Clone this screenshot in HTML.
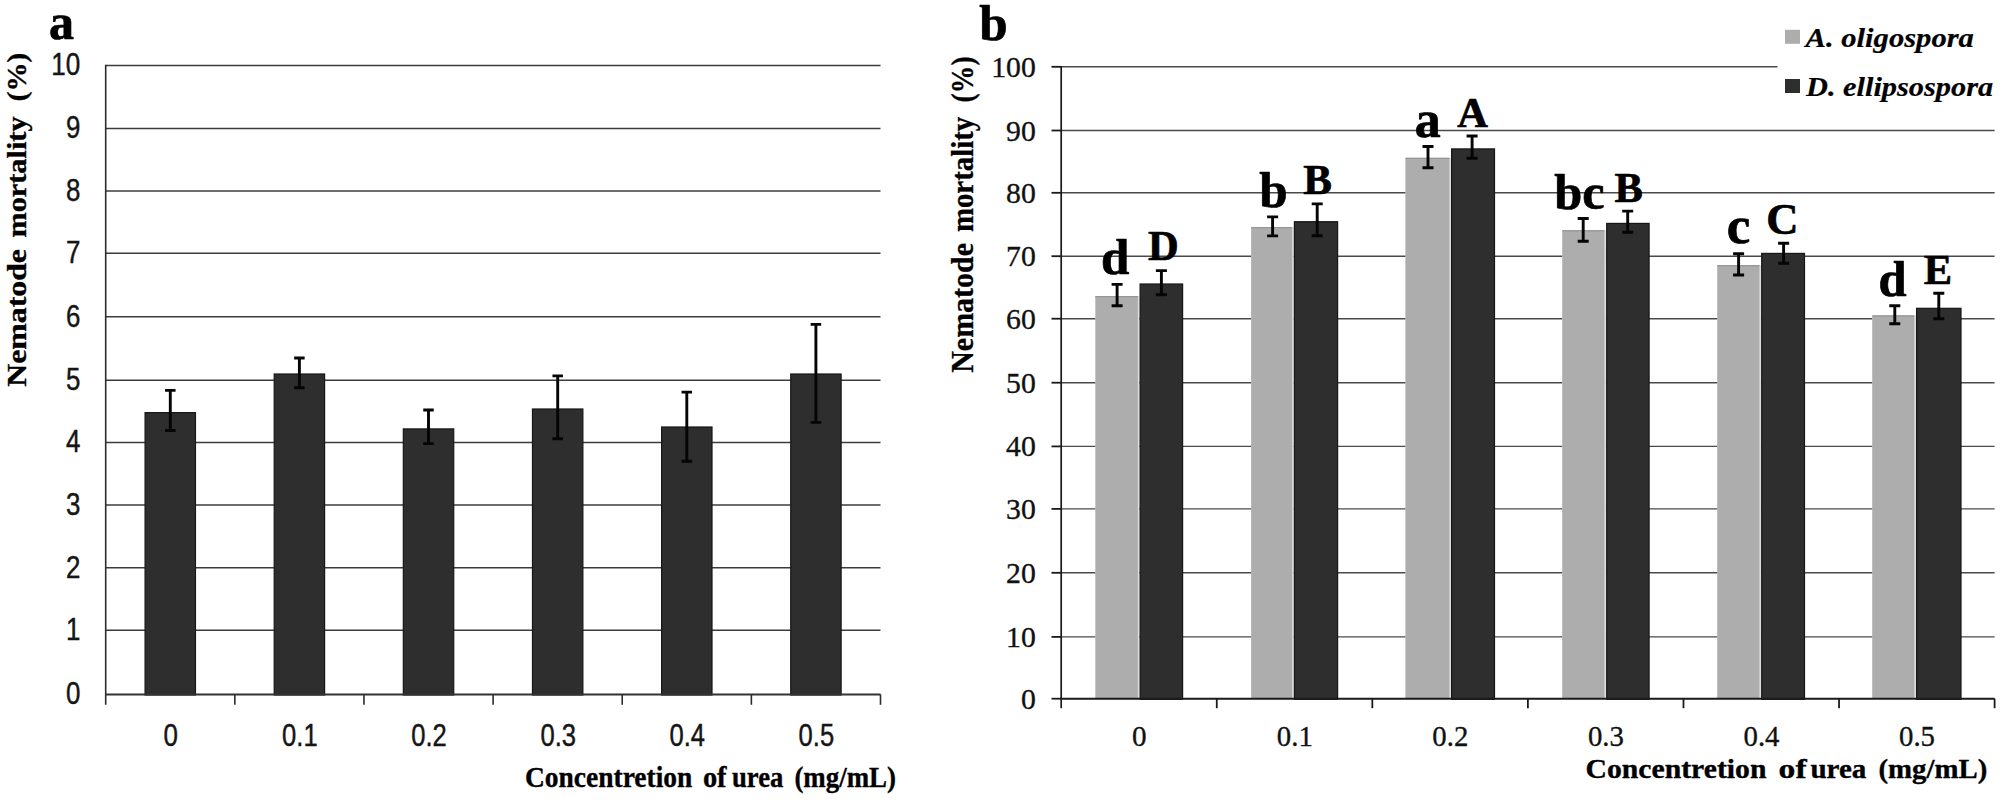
<!DOCTYPE html>
<html lang="en"><head><meta charset="utf-8"><title>Nematode mortality vs. concentration of urea</title>
<style>
html,body{margin:0;padding:0;background:#fff;}
body{width:2007px;height:812px;overflow:hidden;}
svg{display:block;}
text{white-space:pre;}
</style></head><body>
<svg width="2007" height="812" viewBox="0 0 2007 812">
<line x1="105.7" y1="630.30" x2="880.5" y2="630.30" stroke="#3c3c3c" stroke-width="1.5"/>
<line x1="105.7" y1="567.80" x2="880.5" y2="567.80" stroke="#3c3c3c" stroke-width="1.5"/>
<line x1="105.7" y1="505.10" x2="880.5" y2="505.10" stroke="#3c3c3c" stroke-width="1.5"/>
<line x1="105.7" y1="442.40" x2="880.5" y2="442.40" stroke="#3c3c3c" stroke-width="1.5"/>
<line x1="105.7" y1="380.30" x2="880.5" y2="380.30" stroke="#3c3c3c" stroke-width="1.5"/>
<line x1="105.7" y1="316.80" x2="880.5" y2="316.80" stroke="#3c3c3c" stroke-width="1.5"/>
<line x1="105.7" y1="253.30" x2="880.5" y2="253.30" stroke="#3c3c3c" stroke-width="1.5"/>
<line x1="105.7" y1="191.00" x2="880.5" y2="191.00" stroke="#3c3c3c" stroke-width="1.5"/>
<line x1="105.7" y1="128.50" x2="880.5" y2="128.50" stroke="#3c3c3c" stroke-width="1.5"/>
<line x1="105.7" y1="65.40" x2="880.5" y2="65.40" stroke="#3c3c3c" stroke-width="1.5"/>
<rect x="145.07" y="412.60" width="50.40" height="282.40" fill="#2e2e2e" stroke="#171717" stroke-width="1.2"/>
<rect x="274.20" y="374.00" width="50.40" height="321.00" fill="#2e2e2e" stroke="#171717" stroke-width="1.2"/>
<rect x="403.33" y="428.90" width="50.40" height="266.10" fill="#2e2e2e" stroke="#171717" stroke-width="1.2"/>
<rect x="532.47" y="409.00" width="50.40" height="286.00" fill="#2e2e2e" stroke="#171717" stroke-width="1.2"/>
<rect x="661.60" y="427.00" width="50.40" height="268.00" fill="#2e2e2e" stroke="#171717" stroke-width="1.2"/>
<rect x="790.73" y="374.00" width="50.40" height="321.00" fill="#2e2e2e" stroke="#171717" stroke-width="1.2"/>
<path d="M170.3 390.4V430.5M165.05 390.4H175.55M165.05 430.5H175.55" stroke="#050505" stroke-width="2.9" fill="none"/>
<path d="M299.4 358.0V387.7M294.15 358.0H304.65M294.15 387.7H304.65" stroke="#050505" stroke-width="2.9" fill="none"/>
<path d="M428.5 410.0V443.6M423.25 410.0H433.75M423.25 443.6H433.75" stroke="#050505" stroke-width="2.9" fill="none"/>
<path d="M557.7 375.9V438.7M552.45 375.9H562.95M552.45 438.7H562.95" stroke="#050505" stroke-width="2.9" fill="none"/>
<path d="M686.8 392.1V461.3M681.55 392.1H692.05M681.55 461.3H692.05" stroke="#050505" stroke-width="2.9" fill="none"/>
<path d="M815.9 324.4V422.4M810.65 324.4H821.15M810.65 422.4H821.15" stroke="#050505" stroke-width="2.9" fill="none"/>
<line x1="105.7" y1="64.7" x2="105.7" y2="704.8" stroke="#2c2c2c" stroke-width="1.6"/>
<line x1="105.7" y1="694.4" x2="880.5" y2="694.4" stroke="#333" stroke-width="2"/>
<line x1="234.83" y1="694.4" x2="234.83" y2="704.8" stroke="#2c2c2c" stroke-width="1.6"/>
<line x1="363.97" y1="694.4" x2="363.97" y2="704.8" stroke="#2c2c2c" stroke-width="1.6"/>
<line x1="493.10" y1="694.4" x2="493.10" y2="704.8" stroke="#2c2c2c" stroke-width="1.6"/>
<line x1="622.23" y1="694.4" x2="622.23" y2="704.8" stroke="#2c2c2c" stroke-width="1.6"/>
<line x1="751.37" y1="694.4" x2="751.37" y2="704.8" stroke="#2c2c2c" stroke-width="1.6"/>
<line x1="880.50" y1="694.4" x2="880.50" y2="704.8" stroke="#2c2c2c" stroke-width="1.6"/>
<text x="80.3" y="704.3" font-family='"Liberation Sans", sans-serif' font-size="31.6" font-weight="normal" font-style="normal" text-anchor="end" fill="#151515" textLength="14.4" lengthAdjust="spacingAndGlyphs" stroke="#151515" stroke-width="0.45" stroke-linejoin="round">0</text>
<text x="80.3" y="640.2" font-family='"Liberation Sans", sans-serif' font-size="31.6" font-weight="normal" font-style="normal" text-anchor="end" fill="#151515" textLength="14.4" lengthAdjust="spacingAndGlyphs" stroke="#151515" stroke-width="0.45" stroke-linejoin="round">1</text>
<text x="80.3" y="577.7" font-family='"Liberation Sans", sans-serif' font-size="31.6" font-weight="normal" font-style="normal" text-anchor="end" fill="#151515" textLength="14.4" lengthAdjust="spacingAndGlyphs" stroke="#151515" stroke-width="0.45" stroke-linejoin="round">2</text>
<text x="80.3" y="515.0" font-family='"Liberation Sans", sans-serif' font-size="31.6" font-weight="normal" font-style="normal" text-anchor="end" fill="#151515" textLength="14.4" lengthAdjust="spacingAndGlyphs" stroke="#151515" stroke-width="0.45" stroke-linejoin="round">3</text>
<text x="80.3" y="452.3" font-family='"Liberation Sans", sans-serif' font-size="31.6" font-weight="normal" font-style="normal" text-anchor="end" fill="#151515" textLength="14.4" lengthAdjust="spacingAndGlyphs" stroke="#151515" stroke-width="0.45" stroke-linejoin="round">4</text>
<text x="80.3" y="390.2" font-family='"Liberation Sans", sans-serif' font-size="31.6" font-weight="normal" font-style="normal" text-anchor="end" fill="#151515" textLength="14.4" lengthAdjust="spacingAndGlyphs" stroke="#151515" stroke-width="0.45" stroke-linejoin="round">5</text>
<text x="80.3" y="326.7" font-family='"Liberation Sans", sans-serif' font-size="31.6" font-weight="normal" font-style="normal" text-anchor="end" fill="#151515" textLength="14.4" lengthAdjust="spacingAndGlyphs" stroke="#151515" stroke-width="0.45" stroke-linejoin="round">6</text>
<text x="80.3" y="263.2" font-family='"Liberation Sans", sans-serif' font-size="31.6" font-weight="normal" font-style="normal" text-anchor="end" fill="#151515" textLength="14.4" lengthAdjust="spacingAndGlyphs" stroke="#151515" stroke-width="0.45" stroke-linejoin="round">7</text>
<text x="80.3" y="200.9" font-family='"Liberation Sans", sans-serif' font-size="31.6" font-weight="normal" font-style="normal" text-anchor="end" fill="#151515" textLength="14.4" lengthAdjust="spacingAndGlyphs" stroke="#151515" stroke-width="0.45" stroke-linejoin="round">8</text>
<text x="80.3" y="138.4" font-family='"Liberation Sans", sans-serif' font-size="31.6" font-weight="normal" font-style="normal" text-anchor="end" fill="#151515" textLength="14.4" lengthAdjust="spacingAndGlyphs" stroke="#151515" stroke-width="0.45" stroke-linejoin="round">9</text>
<text x="80.3" y="75.3" font-family='"Liberation Sans", sans-serif' font-size="31.6" font-weight="normal" font-style="normal" text-anchor="end" fill="#151515" textLength="29.0" lengthAdjust="spacingAndGlyphs" stroke="#151515" stroke-width="0.45" stroke-linejoin="round">10</text>
<text x="170.8" y="745.7" font-family='"Liberation Sans", sans-serif' font-size="32" font-weight="normal" font-style="normal" text-anchor="middle" fill="#151515" textLength="14.4" lengthAdjust="spacingAndGlyphs" stroke="#151515" stroke-width="0.45" stroke-linejoin="round">0</text>
<text x="299.9" y="745.7" font-family='"Liberation Sans", sans-serif' font-size="32" font-weight="normal" font-style="normal" text-anchor="middle" fill="#151515" textLength="35.6" lengthAdjust="spacingAndGlyphs" stroke="#151515" stroke-width="0.45" stroke-linejoin="round">0.1</text>
<text x="429.0" y="745.7" font-family='"Liberation Sans", sans-serif' font-size="32" font-weight="normal" font-style="normal" text-anchor="middle" fill="#151515" textLength="35.6" lengthAdjust="spacingAndGlyphs" stroke="#151515" stroke-width="0.45" stroke-linejoin="round">0.2</text>
<text x="558.2" y="745.7" font-family='"Liberation Sans", sans-serif' font-size="32" font-weight="normal" font-style="normal" text-anchor="middle" fill="#151515" textLength="35.6" lengthAdjust="spacingAndGlyphs" stroke="#151515" stroke-width="0.45" stroke-linejoin="round">0.3</text>
<text x="687.3" y="745.7" font-family='"Liberation Sans", sans-serif' font-size="32" font-weight="normal" font-style="normal" text-anchor="middle" fill="#151515" textLength="35.6" lengthAdjust="spacingAndGlyphs" stroke="#151515" stroke-width="0.45" stroke-linejoin="round">0.4</text>
<text x="816.4" y="745.7" font-family='"Liberation Sans", sans-serif' font-size="32" font-weight="normal" font-style="normal" text-anchor="middle" fill="#151515" textLength="35.6" lengthAdjust="spacingAndGlyphs" stroke="#151515" stroke-width="0.45" stroke-linejoin="round">0.5</text>
<text x="49" y="39" font-family='"Liberation Serif", serif' font-size="50" font-weight="bold" font-style="normal" text-anchor="start" fill="#000" stroke="#000" stroke-width="0.7" stroke-linejoin="round">a</text>
<text transform="translate(26.2 0) rotate(-90)" y="0" font-family='"Liberation Serif", serif' font-size="27.5" font-weight="bold" fill="#000" stroke="#000" stroke-width="0.35" stroke-linejoin="round"><tspan x="-386.8" textLength="137.8" lengthAdjust="spacingAndGlyphs">Nematode</tspan> <tspan x="-237.6" textLength="121.2" lengthAdjust="spacingAndGlyphs">mortality</tspan> <tspan x="-101.2" textLength="48.5" lengthAdjust="spacingAndGlyphs">(%)</tspan></text>
<text y="786.8" font-family='"Liberation Serif", serif' font-size="29" font-weight="bold" fill="#000" stroke="#000" stroke-width="0.35" stroke-linejoin="round"><tspan x="525" textLength="167.3" lengthAdjust="spacingAndGlyphs">Concentretion</tspan> <tspan x="702.9" textLength="23.7" lengthAdjust="spacingAndGlyphs">of</tspan> <tspan x="732" textLength="51.4" lengthAdjust="spacingAndGlyphs">urea</tspan> <tspan x="794.4" textLength="101.6" lengthAdjust="spacingAndGlyphs">(mg/mL)</tspan></text>
<line x1="1061.2" y1="636.90" x2="1994.6" y2="636.90" stroke="#4a4a4a" stroke-width="1.4"/>
<line x1="1061.2" y1="572.80" x2="1994.6" y2="572.80" stroke="#4a4a4a" stroke-width="1.4"/>
<line x1="1061.2" y1="508.90" x2="1994.6" y2="508.90" stroke="#4a4a4a" stroke-width="1.4"/>
<line x1="1061.2" y1="446.40" x2="1994.6" y2="446.40" stroke="#4a4a4a" stroke-width="1.4"/>
<line x1="1061.2" y1="382.70" x2="1994.6" y2="382.70" stroke="#4a4a4a" stroke-width="1.4"/>
<line x1="1061.2" y1="318.70" x2="1994.6" y2="318.70" stroke="#4a4a4a" stroke-width="1.4"/>
<line x1="1061.2" y1="256.20" x2="1994.6" y2="256.20" stroke="#4a4a4a" stroke-width="1.4"/>
<line x1="1061.2" y1="192.80" x2="1994.6" y2="192.80" stroke="#4a4a4a" stroke-width="1.4"/>
<line x1="1061.2" y1="130.50" x2="1994.6" y2="130.50" stroke="#4a4a4a" stroke-width="1.4"/>
<line x1="1061.2" y1="66.80" x2="1777.5" y2="66.80" stroke="#4a4a4a" stroke-width="1.4"/>
<rect x="1095.4" y="296.0" width="44.10" height="402.70" fill="#dcdcdc"/>
<rect x="1095.4" y="296.0" width="42.40" height="402.70" fill="#adadad"/>
<rect x="1095.4" y="296.0" width="42.40" height="1.2" fill="#969696"/>
<rect x="1140.10" y="284.00" width="42.50" height="415.30" fill="#2e2e2e" stroke="#171717" stroke-width="1.2"/>
<rect x="1251.2" y="227.0" width="42.60" height="471.70" fill="#dcdcdc"/>
<rect x="1251.2" y="227.0" width="40.90" height="471.70" fill="#adadad"/>
<rect x="1251.2" y="227.0" width="40.90" height="1.2" fill="#969696"/>
<rect x="1294.40" y="221.70" width="43.20" height="477.60" fill="#2e2e2e" stroke="#171717" stroke-width="1.2"/>
<rect x="1405.5" y="157.8" width="45.50" height="540.90" fill="#dcdcdc"/>
<rect x="1405.5" y="157.8" width="43.80" height="540.90" fill="#adadad"/>
<rect x="1405.5" y="157.8" width="43.80" height="1.2" fill="#969696"/>
<rect x="1451.60" y="148.90" width="42.90" height="550.40" fill="#2e2e2e" stroke="#171717" stroke-width="1.2"/>
<rect x="1562.3" y="230.2" width="43.80" height="468.50" fill="#dcdcdc"/>
<rect x="1562.3" y="230.2" width="42.10" height="468.50" fill="#adadad"/>
<rect x="1562.3" y="230.2" width="42.10" height="1.2" fill="#969696"/>
<rect x="1606.70" y="223.40" width="42.40" height="475.90" fill="#2e2e2e" stroke="#171717" stroke-width="1.2"/>
<rect x="1717.3" y="265.1" width="43.80" height="433.60" fill="#dcdcdc"/>
<rect x="1717.3" y="265.1" width="42.10" height="433.60" fill="#adadad"/>
<rect x="1717.3" y="265.1" width="42.10" height="1.2" fill="#969696"/>
<rect x="1761.70" y="253.40" width="42.80" height="445.90" fill="#2e2e2e" stroke="#171717" stroke-width="1.2"/>
<rect x="1872.3" y="315.4" width="43.70" height="383.30" fill="#dcdcdc"/>
<rect x="1872.3" y="315.4" width="42.00" height="383.30" fill="#adadad"/>
<rect x="1872.3" y="315.4" width="42.00" height="1.2" fill="#969696"/>
<rect x="1916.60" y="308.30" width="44.40" height="391.00" fill="#2e2e2e" stroke="#171717" stroke-width="1.2"/>
<path d="M1117.1 284.4V305.8M1111.6 284.4H1122.6M1111.6 305.8H1122.6" stroke="#050505" stroke-width="2.9" fill="none"/>
<path d="M1161.4 270.6V294.7M1155.9 270.6H1166.9M1155.9 294.7H1166.9" stroke="#050505" stroke-width="2.9" fill="none"/>
<path d="M1272.6 216.9V235.9M1267.1 216.9H1278.1M1267.1 235.9H1278.1" stroke="#050505" stroke-width="2.9" fill="none"/>
<path d="M1317.2 203.9V235.7M1311.7 203.9H1322.7M1311.7 235.7H1322.7" stroke="#050505" stroke-width="2.9" fill="none"/>
<path d="M1428.0 146.5V167.8M1422.5 146.5H1433.5M1422.5 167.8H1433.5" stroke="#050505" stroke-width="2.9" fill="none"/>
<path d="M1472.1 136.0V158.2M1466.6 136.0H1477.6M1466.6 158.2H1477.6" stroke="#050505" stroke-width="2.9" fill="none"/>
<path d="M1583.2 218.5V241.3M1577.7 218.5H1588.7M1577.7 241.3H1588.7" stroke="#050505" stroke-width="2.9" fill="none"/>
<path d="M1627.7 211.1V232.2M1622.2 211.1H1633.2M1622.2 232.2H1633.2" stroke="#050505" stroke-width="2.9" fill="none"/>
<path d="M1738.6 253.8V275.0M1733.1 253.8H1744.1M1733.1 275.0H1744.1" stroke="#050505" stroke-width="2.9" fill="none"/>
<path d="M1783.6 243.2V263.3M1778.1 243.2H1789.1M1778.1 263.3H1789.1" stroke="#050505" stroke-width="2.9" fill="none"/>
<path d="M1894.8 305.8V323.7M1889.3 305.8H1900.3M1889.3 323.7H1900.3" stroke="#050505" stroke-width="2.9" fill="none"/>
<path d="M1938.8 293.3V318.8M1933.3 293.3H1944.3M1933.3 318.8H1944.3" stroke="#050505" stroke-width="2.9" fill="none"/>
<line x1="1061.2" y1="66.0" x2="1061.2" y2="708.2" stroke="#1a1a1a" stroke-width="1.7"/>
<line x1="1060.2" y1="698.7" x2="1994.6" y2="698.7" stroke="#1a1a1a" stroke-width="2"/>
<line x1="1216.77" y1="698.7" x2="1216.77" y2="708.2" stroke="#1a1a1a" stroke-width="1.8"/>
<line x1="1372.33" y1="698.7" x2="1372.33" y2="708.2" stroke="#1a1a1a" stroke-width="1.8"/>
<line x1="1527.90" y1="698.7" x2="1527.90" y2="708.2" stroke="#1a1a1a" stroke-width="1.8"/>
<line x1="1683.47" y1="698.7" x2="1683.47" y2="708.2" stroke="#1a1a1a" stroke-width="1.8"/>
<line x1="1839.03" y1="698.7" x2="1839.03" y2="708.2" stroke="#1a1a1a" stroke-width="1.8"/>
<line x1="1994.60" y1="698.7" x2="1994.60" y2="708.2" stroke="#1a1a1a" stroke-width="1.8"/>
<line x1="1051.5" y1="698.70" x2="1061.2" y2="698.70" stroke="#1a1a1a" stroke-width="1.8"/>
<text x="1035.8" y="708.7" font-family='"Liberation Serif", serif' font-size="30" font-weight="normal" font-style="normal" text-anchor="end" fill="#111" textLength="14.85" lengthAdjust="spacingAndGlyphs" stroke="#111" stroke-width="0.35" stroke-linejoin="round">0</text>
<line x1="1051.5" y1="636.90" x2="1061.2" y2="636.90" stroke="#1a1a1a" stroke-width="1.8"/>
<text x="1035.8" y="646.9" font-family='"Liberation Serif", serif' font-size="30" font-weight="normal" font-style="normal" text-anchor="end" fill="#111" textLength="29.7" lengthAdjust="spacingAndGlyphs" stroke="#111" stroke-width="0.35" stroke-linejoin="round">10</text>
<line x1="1051.5" y1="572.80" x2="1061.2" y2="572.80" stroke="#1a1a1a" stroke-width="1.8"/>
<text x="1035.8" y="582.8" font-family='"Liberation Serif", serif' font-size="30" font-weight="normal" font-style="normal" text-anchor="end" fill="#111" textLength="29.7" lengthAdjust="spacingAndGlyphs" stroke="#111" stroke-width="0.35" stroke-linejoin="round">20</text>
<line x1="1051.5" y1="508.90" x2="1061.2" y2="508.90" stroke="#1a1a1a" stroke-width="1.8"/>
<text x="1035.8" y="518.9" font-family='"Liberation Serif", serif' font-size="30" font-weight="normal" font-style="normal" text-anchor="end" fill="#111" textLength="29.7" lengthAdjust="spacingAndGlyphs" stroke="#111" stroke-width="0.35" stroke-linejoin="round">30</text>
<line x1="1051.5" y1="446.40" x2="1061.2" y2="446.40" stroke="#1a1a1a" stroke-width="1.8"/>
<text x="1035.8" y="456.4" font-family='"Liberation Serif", serif' font-size="30" font-weight="normal" font-style="normal" text-anchor="end" fill="#111" textLength="29.7" lengthAdjust="spacingAndGlyphs" stroke="#111" stroke-width="0.35" stroke-linejoin="round">40</text>
<line x1="1051.5" y1="382.70" x2="1061.2" y2="382.70" stroke="#1a1a1a" stroke-width="1.8"/>
<text x="1035.8" y="392.7" font-family='"Liberation Serif", serif' font-size="30" font-weight="normal" font-style="normal" text-anchor="end" fill="#111" textLength="29.7" lengthAdjust="spacingAndGlyphs" stroke="#111" stroke-width="0.35" stroke-linejoin="round">50</text>
<line x1="1051.5" y1="318.70" x2="1061.2" y2="318.70" stroke="#1a1a1a" stroke-width="1.8"/>
<text x="1035.8" y="328.7" font-family='"Liberation Serif", serif' font-size="30" font-weight="normal" font-style="normal" text-anchor="end" fill="#111" textLength="29.7" lengthAdjust="spacingAndGlyphs" stroke="#111" stroke-width="0.35" stroke-linejoin="round">60</text>
<line x1="1051.5" y1="256.20" x2="1061.2" y2="256.20" stroke="#1a1a1a" stroke-width="1.8"/>
<text x="1035.8" y="266.2" font-family='"Liberation Serif", serif' font-size="30" font-weight="normal" font-style="normal" text-anchor="end" fill="#111" textLength="29.7" lengthAdjust="spacingAndGlyphs" stroke="#111" stroke-width="0.35" stroke-linejoin="round">70</text>
<line x1="1051.5" y1="192.80" x2="1061.2" y2="192.80" stroke="#1a1a1a" stroke-width="1.8"/>
<text x="1035.8" y="202.8" font-family='"Liberation Serif", serif' font-size="30" font-weight="normal" font-style="normal" text-anchor="end" fill="#111" textLength="29.7" lengthAdjust="spacingAndGlyphs" stroke="#111" stroke-width="0.35" stroke-linejoin="round">80</text>
<line x1="1051.5" y1="130.50" x2="1061.2" y2="130.50" stroke="#1a1a1a" stroke-width="1.8"/>
<text x="1035.8" y="140.5" font-family='"Liberation Serif", serif' font-size="30" font-weight="normal" font-style="normal" text-anchor="end" fill="#111" textLength="29.7" lengthAdjust="spacingAndGlyphs" stroke="#111" stroke-width="0.35" stroke-linejoin="round">90</text>
<line x1="1051.5" y1="66.80" x2="1061.2" y2="66.80" stroke="#1a1a1a" stroke-width="1.8"/>
<text x="1035.8" y="76.8" font-family='"Liberation Serif", serif' font-size="30" font-weight="normal" font-style="normal" text-anchor="end" fill="#111" textLength="44.55" lengthAdjust="spacingAndGlyphs" stroke="#111" stroke-width="0.35" stroke-linejoin="round">100</text>
<text x="1139.2" y="745.5" font-family='"Liberation Serif", serif' font-size="30.3" font-weight="normal" font-style="normal" text-anchor="middle" fill="#111" textLength="14.6" lengthAdjust="spacingAndGlyphs" stroke="#111" stroke-width="0.35" stroke-linejoin="round">0</text>
<text x="1294.8" y="745.5" font-family='"Liberation Serif", serif' font-size="30.3" font-weight="normal" font-style="normal" text-anchor="middle" fill="#111" textLength="36.0" lengthAdjust="spacingAndGlyphs" stroke="#111" stroke-width="0.35" stroke-linejoin="round">0.1</text>
<text x="1450.3" y="745.5" font-family='"Liberation Serif", serif' font-size="30.3" font-weight="normal" font-style="normal" text-anchor="middle" fill="#111" textLength="36.0" lengthAdjust="spacingAndGlyphs" stroke="#111" stroke-width="0.35" stroke-linejoin="round">0.2</text>
<text x="1605.9" y="745.5" font-family='"Liberation Serif", serif' font-size="30.3" font-weight="normal" font-style="normal" text-anchor="middle" fill="#111" textLength="36.0" lengthAdjust="spacingAndGlyphs" stroke="#111" stroke-width="0.35" stroke-linejoin="round">0.3</text>
<text x="1761.5" y="745.5" font-family='"Liberation Serif", serif' font-size="30.3" font-weight="normal" font-style="normal" text-anchor="middle" fill="#111" textLength="36.0" lengthAdjust="spacingAndGlyphs" stroke="#111" stroke-width="0.35" stroke-linejoin="round">0.4</text>
<text x="1917.0" y="745.5" font-family='"Liberation Serif", serif' font-size="30.3" font-weight="normal" font-style="normal" text-anchor="middle" fill="#111" textLength="36.0" lengthAdjust="spacingAndGlyphs" stroke="#111" stroke-width="0.35" stroke-linejoin="round">0.5</text>
<text x="1101.0" y="273.7" font-family='"Liberation Serif", serif' font-size="51" font-weight="bold" font-style="normal" text-anchor="start" fill="#000" stroke="#000" stroke-width="0.7" stroke-linejoin="round">d</text>
<text x="1148.0" y="260.3" font-family='"Liberation Serif", serif' font-size="42.5" font-weight="bold" font-style="normal" text-anchor="start" fill="#000" stroke="#000" stroke-width="0.7" stroke-linejoin="round">D</text>
<text x="1259.3" y="207.1" font-family='"Liberation Serif", serif' font-size="51" font-weight="bold" font-style="normal" text-anchor="start" fill="#000" stroke="#000" stroke-width="0.7" stroke-linejoin="round">b</text>
<text x="1303.3" y="193.6" font-family='"Liberation Serif", serif' font-size="43" font-weight="bold" font-style="normal" text-anchor="start" fill="#000" stroke="#000" stroke-width="0.7" stroke-linejoin="round">B</text>
<text x="1414.8" y="137.0" font-family='"Liberation Serif", serif' font-size="52" font-weight="bold" font-style="normal" text-anchor="start" fill="#000" stroke="#000" stroke-width="0.7" stroke-linejoin="round">a</text>
<text x="1457.3" y="127.4" font-family='"Liberation Serif", serif' font-size="42.5" font-weight="bold" font-style="normal" text-anchor="start" fill="#000" stroke="#000" stroke-width="0.7" stroke-linejoin="round">A</text>
<text x="1554.3" y="209.0" font-family='"Liberation Serif", serif' font-size="50.3" font-weight="bold" font-style="normal" text-anchor="start" fill="#000" stroke="#000" stroke-width="0.7" stroke-linejoin="round">bc</text>
<text x="1614.5" y="202.1" font-family='"Liberation Serif", serif' font-size="42.5" font-weight="bold" font-style="normal" text-anchor="start" fill="#000" stroke="#000" stroke-width="0.7" stroke-linejoin="round">B</text>
<text x="1726.8" y="243.0" font-family='"Liberation Serif", serif' font-size="53" font-weight="bold" font-style="normal" text-anchor="start" fill="#000" stroke="#000" stroke-width="0.7" stroke-linejoin="round">c</text>
<text x="1766.3" y="234.2" font-family='"Liberation Serif", serif' font-size="44.6" font-weight="bold" font-style="normal" text-anchor="start" fill="#000" stroke="#000" stroke-width="0.7" stroke-linejoin="round">C</text>
<text x="1878.6" y="296.3" font-family='"Liberation Serif", serif' font-size="50.5" font-weight="bold" font-style="normal" text-anchor="start" fill="#000" stroke="#000" stroke-width="0.7" stroke-linejoin="round">d</text>
<text x="1923.7" y="284.0" font-family='"Liberation Serif", serif' font-size="42.5" font-weight="bold" font-style="normal" text-anchor="start" fill="#000" stroke="#000" stroke-width="0.7" stroke-linejoin="round">E</text>
<rect x="1780" y="20" width="227" height="86" fill="#fff"/>
<rect x="1785" y="29.8" width="15" height="14" fill="#adadad"/>
<rect x="1785" y="79" width="15" height="14" fill="#2e2e2e"/>
<text x="1805.6" y="46.8" font-family='"Liberation Serif", serif' font-size="27.6" font-weight="bold" font-style="italic" text-anchor="start" fill="#000" textLength="168.3" lengthAdjust="spacingAndGlyphs" stroke="#000" stroke-width="0.2" stroke-linejoin="round">A. oligospora</text>
<text x="1806" y="95.5" font-family='"Liberation Serif", serif' font-size="27.6" font-weight="bold" font-style="italic" text-anchor="start" fill="#000" textLength="187.2" lengthAdjust="spacingAndGlyphs" stroke="#000" stroke-width="0.2" stroke-linejoin="round">D. ellipsospora</text>
<text x="979.2" y="40.0" font-family='"Liberation Serif", serif' font-size="51" font-weight="bold" font-style="normal" text-anchor="start" fill="#000" stroke="#000" stroke-width="0.7" stroke-linejoin="round">b</text>
<text transform="translate(973.4 0) rotate(-90)" y="0" font-family='"Liberation Serif", serif' font-size="30.5" font-weight="bold" fill="#000" stroke="#000" stroke-width="0.3" stroke-linejoin="round"><tspan x="-372.8" textLength="129.8" lengthAdjust="spacingAndGlyphs">Nematode</tspan> <tspan x="-232.1" textLength="115.3" lengthAdjust="spacingAndGlyphs">mortality</tspan> <tspan x="-102.4" textLength="46.0" lengthAdjust="spacingAndGlyphs">(%)</tspan></text>
<text y="778" font-family='"Liberation Serif", serif' font-size="27.5" font-weight="bold" fill="#000" stroke="#000" stroke-width="0.35" stroke-linejoin="round"><tspan x="1585.5" textLength="180.9" lengthAdjust="spacingAndGlyphs">Concentretion</tspan> <tspan x="1778.6" textLength="28.0" lengthAdjust="spacingAndGlyphs">of</tspan> <tspan x="1810.4" textLength="56.0" lengthAdjust="spacingAndGlyphs">urea</tspan> <tspan x="1878.5" textLength="108.8" lengthAdjust="spacingAndGlyphs">(mg/mL)</tspan></text>
</svg>
</body></html>
